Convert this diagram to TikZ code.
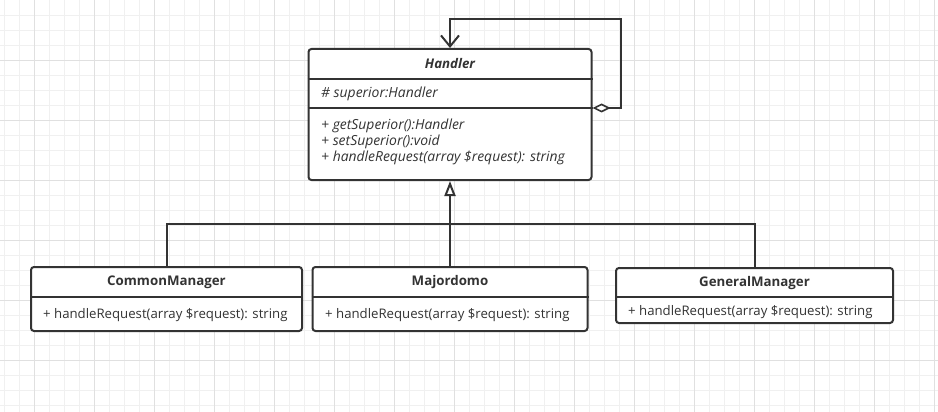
\documentclass[tikz,border=0pt]{standalone}
\usepackage{fontspec}
\setmainfont{Open Sans}
\usetikzlibrary{arrows.meta,calc}
\definecolor{ink}{HTML}{333333}
\definecolor{gridminor}{HTML}{F0F0F0}
\definecolor{gridmajor}{HTML}{E0E0E0}
\tikzset{
  umlbox/.style={draw=ink, line width=2pt, rounded corners=3pt, fill=white, inner sep=0pt},
  divider/.style={draw=ink, line width=2pt},
  conn/.style={draw=ink, line width=2pt},
  title/.style={font=\fontsize{13.3}{15}\selectfont\bfseries, text=ink, inner sep=0pt, anchor=center},
  member/.style={font=\fontsize{13.2}{15}\selectfont, text=ink, inner sep=0pt, anchor=west},
  imember/.style={font=\fontsize{13.9}{15}\selectfont\itshape, text=ink, inner sep=0pt, anchor=west},
}
\begin{document}
\begin{tikzpicture}[x=1pt,y=-1pt]
\useasboundingbox (0,0) rectangle (938,412);
\fill[white] (0,0) rectangle (938,412);
% grid
\foreach \gx in {4,19,...,934} {\draw[gridminor, line width=0.8pt] (\gx,0) -- (\gx,412);}
\foreach \gy in {15,30,...,405} {\draw[gridminor, line width=0.8pt] (0,\gy) -- (938,\gy);}
\foreach \gx in {34,94,...,934} {\draw[gridmajor, line width=0.8pt] (\gx,0) -- (\gx,412);}
\foreach \gy in {60,120,...,400} {\draw[gridmajor, line width=0.8pt] (0,\gy) -- (938,\gy);}

% Handler
\node[umlbox, minimum width=283pt, minimum height=131pt] (handler) at (450,114.5) {};
\draw[divider] (handler.west |- 0,79) -- (handler.east |- 0,79);
\draw[divider] (handler.west |- 0,108) -- (handler.east |- 0,108);
\node[title, font=\fontsize{13.3}{15}\selectfont\bfseries\itshape] (htitle) at (450,64) {Handler};
\node[imember] (hattr) at (321,94) {\# superior:Handler};
\node[imember] (hm1) at (321,126) {+ getSuperior():Handler};
\node[imember] (hm2) at (321,142) {+ setSuperior():void};
\node[imember] (hm3) at (321,158) {+ handleRequest(array \$request): string};

% CommonManager
\node[umlbox, minimum width=271pt, minimum height=64pt] (cm) at (166.5,299) {};
\draw[divider] (cm.west |- 0,297) -- (cm.east |- 0,297);
\node[title] (cmtitle) at (166.5,282) {CommonManager};
\node[member] (cmm) at (43,315) {+ handleRequest(array \$request): string};

% Majordomo
\node[umlbox, minimum width=275pt, minimum height=64pt] (mj) at (450,299) {};
\draw[divider] (mj.west |- 0,297) -- (mj.east |- 0,297);
\node[title] (mjtitle) at (450,282) {Majordomo};
\node[member] (mjm) at (325,315) {+ handleRequest(array \$request): string};

% GeneralManager
\node[umlbox, minimum width=277pt, minimum height=55pt] (gm) at (754.5,295.5) {};
\draw[divider] (gm.west |- 0,297) -- (gm.east |- 0,297);
\node[title] (gmtitle) at (754.5,283) {GeneralManager};
\node[member] (gmm) at (628,312) {+ handleRequest(array \$request): string};

% inheritance
\coordinate (junc) at (450,224);
\draw[conn] (cm.north -| 167,0) |- (junc);
\draw[conn] (gm.north) |- (junc);
\draw[conn, -{Triangle[open, length=15pt, width=11pt, line width=2pt]}] (mj.north) -- (handler.south);

% self aggregation
\coordinate (hagg) at (handler.east |- 0,108);
\coordinate (looptop) at (621,19);
\draw[conn, {Diamond[open, length=18pt, width=9pt, line width=1.6pt]}-{Straight Barb[length=11pt, width=18pt, line width=2pt]}]
  (hagg) -| (looptop) -| (handler.north);
\end{tikzpicture}
\end{document}
